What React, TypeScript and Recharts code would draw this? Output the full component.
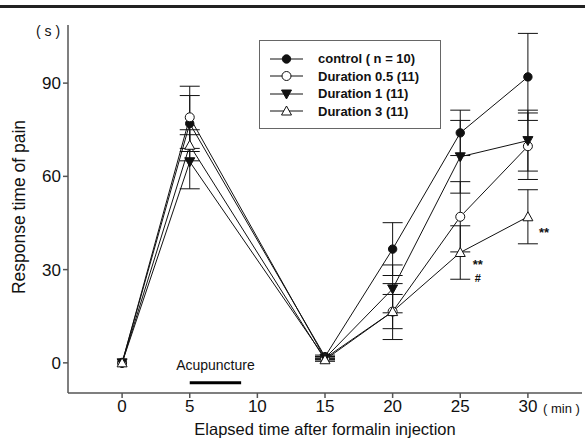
import {
  ComposedChart,
  Line,
  XAxis,
  YAxis,
  ErrorBar,
  ReferenceLine,
  ReferenceDot,
  Legend,
} from "recharts";

const times = [0, 5, 15, 20, 25, 30];

const control = [0, 77, 2, 36.6, 74, 92];
const controlErr = [0, 9, 0.5, 8.5, 7.3, 14];
const dur05 = [0, 79, 1.5, 16.5, 47, 69.7];
const dur05Err = [0, 10, 0.5, 9, 11.3, 10.7];
const dur1 = [0, 64.7, 1.5, 23.8, 66.3, 71.5];
const dur1Err = [0, 8.7, 0.5, 7.7, 11.7, 9.8];
const dur3 = [0, 70, 1, 16.5, 35.5, 47];
const dur3Err = [0, 5, 0.5, 5.5, 8.6, 8.7];

const xTicks = [0, 5, 10, 15, 20, 25, 30];
const yTicks = [0, 30, 60, 90];

const legendItems = [
  { key: "control", label: "control ( n = 10)", shape: "circleFilled" },
  { key: "dur05", label: "Duration 0.5 (11)", shape: "circleOpen" },
  { key: "dur1", label: "Duration 1 (11)", shape: "triDown" },
  { key: "dur3", label: "Duration 3 (11)", shape: "triUp" },
];

const data = times.map((t, i) => ({
  t,
  control: control[i],
  controlErr: controlErr[i],
  dur05: dur05[i],
  dur05Err: dur05Err[i],
  dur1: dur1[i],
  dur1Err: dur1Err[i],
  dur3: dur3[i],
  dur3Err: dur3Err[i],
}));

const INK = "#111";
const FONT = 'Arial, "Liberation Sans", sans-serif';

function Marker({ shape, cx, cy }: { shape: string; cx: number; cy: number }) {
  if (shape === "circleFilled") return <circle cx={cx} cy={cy} r={4.2} fill={INK} stroke={INK} />;
  if (shape === "circleOpen") return <circle cx={cx} cy={cy} r={4.5} fill="#fff" stroke={INK} strokeWidth={1} />;
  if (shape === "triDown")
    return (
      <polygon
        points={`${cx - 5},${cy - 4} ${cx + 5},${cy - 4} ${cx},${cy + 5}`}
        fill={INK}
        stroke={INK}
      />
    );
  return (
    <polygon
      points={`${cx - 5},${cy + 4} ${cx + 5},${cy + 4} ${cx},${cy - 5}`}
      fill="#fff"
      stroke={INK}
      strokeWidth={1}
    />
  );
}

const dotFor = (shape: string) => (props: any) =>
  <Marker key={`${shape}-${props.index}`} shape={shape} cx={props.cx} cy={props.cy} />;

function LegendBox() {
  return (
    <div
      style={{
        width: 182,
        height: 89,
        border: "1.5px solid #666",
        background: "#fff",
        boxSizing: "border-box",
        paddingTop: 9,
        fontFamily: FONT,
      }}
    >
      {legendItems.map((it) => (
        <div key={it.key} style={{ display: "flex", alignItems: "center", height: 17.5 }}>
          <svg width={50} height={14} style={{ marginLeft: 8 }}>
            <line x1={2} y1={7} x2={35} y2={7} stroke={INK} strokeWidth={1} />
            <Marker shape={it.shape} cx={18.5} cy={7} />
          </svg>
          <span style={{ fontSize: 13, fontWeight: "bold", color: "#111", whiteSpace: "pre" }}>{it.label}</span>
        </div>
      ))}
    </div>
  );
}

const series = [
  { key: "control", err: "controlErr", shape: "circleFilled" },
  { key: "dur05", err: "dur05Err", shape: "circleOpen" },
  { key: "dur1", err: "dur1Err", shape: "triDown" },
  { key: "dur3", err: "dur3Err", shape: "triUp" },
];

export default function App() {
  return (
    <div
      style={{
        position: "absolute",
        left: 0,
        top: 0,
        width: 585,
        height: 441,
        background: "#fff",
        fontFamily: FONT,
      }}
    >
      <div style={{ position: "absolute", left: 0, top: 5, width: 585, height: 2.5, background: "#222" }} />
      <ComposedChart
        width={585}
        height={441}
        data={data}
        margin={{ top: 25, right: 3, left: 8, bottom: 18 }}
      >
        <XAxis
          type="number"
          dataKey="t"
          domain={[-4, 34]}
          ticks={xTicks}
          allowDataOverflow
          stroke="#555"
          strokeWidth={1.5}
          tickSize={5}
          tickMargin={2}
          height={30}
          tick={{ fill: "#111", fontSize: 17, fontFamily: FONT }}
        />
        <YAxis
          type="number"
          domain={[-9.7, 108.7]}
          ticks={yTicks}
          allowDataOverflow
          stroke="#555"
          strokeWidth={1.5}
          tickSize={5}
          tickMargin={2}
          width={60}
          tick={{ fill: "#111", fontSize: 17, fontFamily: FONT }}
        />
        <ReferenceLine
          segment={[
            { x: 5, y: -6.4 },
            { x: 8.8, y: -6.4 },
          ]}
          stroke="#000"
          strokeWidth={3}
        />
        <ReferenceDot
          x={6.9}
          y={-0.6}
          r={0}
          fill="none"
          stroke="none"
          label={{ value: "Acupuncture", position: "center", fill: "#111", fontSize: 14, fontFamily: FONT }}
        />
        <ReferenceDot
          x={31.2}
          y={42}
          r={0}
          fill="none"
          stroke="none"
          label={{ value: "**", position: "center", fill: "#111", fontSize: 13, fontWeight: "bold", fontFamily: FONT }}
        />
        <ReferenceDot
          x={26.3}
          y={31.8}
          r={0}
          fill="none"
          stroke="none"
          label={{ value: "**", position: "center", fill: "#111", fontSize: 13, fontWeight: "bold", fontFamily: FONT }}
        />
        <ReferenceDot
          x={26.3}
          y={27.3}
          r={0}
          fill="none"
          stroke="none"
          label={{ value: "#", position: "center", fill: "#111", fontSize: 11, fontWeight: "bold", fontFamily: FONT }}
        />
        {series.map((s) => (
          <Line
            key={s.key}
            type="linear"
            dataKey={s.key}
            stroke={INK}
            strokeWidth={1}
            dot={dotFor(s.shape)}
            activeDot={false}
            isAnimationActive={false}
          >
            <ErrorBar dataKey={s.err} width={10} stroke={INK} strokeWidth={1} direction="y" />
          </Line>
        ))}
        <Legend
          layout="vertical"
          align="center"
          verticalAlign="middle"
          wrapperStyle={{ left: 259, top: 40, width: 184 }}
          content={() => <LegendBox />}
        />
      </ComposedChart>
      <div style={{ position: "absolute", left: 36, top: 23, fontSize: 14, color: "#111", whiteSpace: "pre" }}>( s )</div>
      <div style={{ position: "absolute", left: 543, top: 401, fontSize: 13, color: "#111", whiteSpace: "pre" }}>( min )</div>
      <div
        style={{
          position: "absolute",
          left: 325,
          top: 429,
          transform: "translate(-50%, -50%)",
          fontSize: 16.5,
          color: "#111",
          whiteSpace: "nowrap",
        }}
      >
        Elapsed time after formalin injection
      </div>
      <div
        style={{
          position: "absolute",
          left: 19,
          top: 207,
          transform: "translate(-50%, -50%) rotate(-90deg)",
          fontSize: 17.5,
          color: "#111",
          whiteSpace: "nowrap",
        }}
      >
        Response time of pain
      </div>
    </div>
  );
}
